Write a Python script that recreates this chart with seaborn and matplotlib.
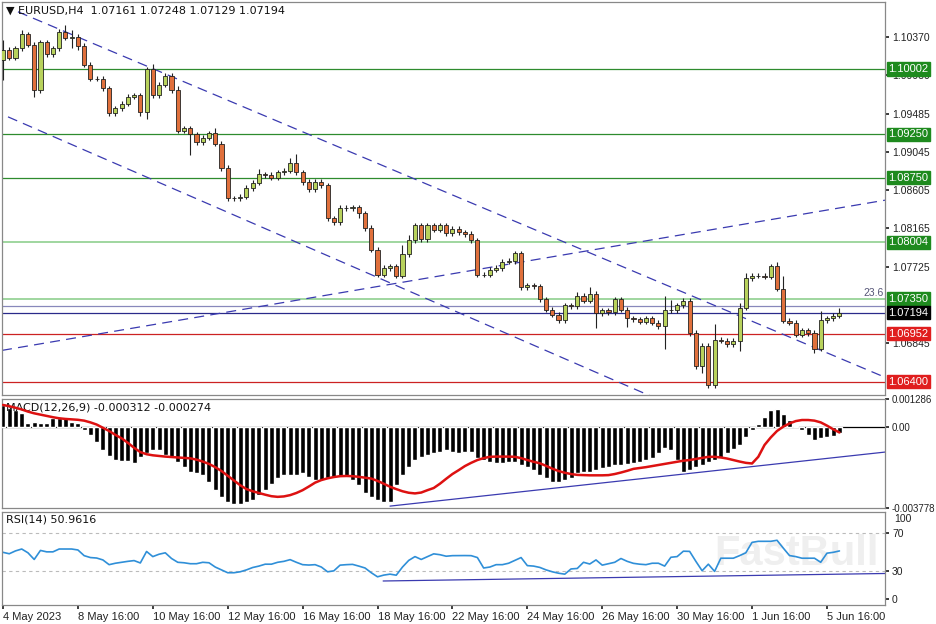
import numpy as np
import pandas as pd
import matplotlib
matplotlib.use("Agg")
import matplotlib.pyplot as plt
import matplotlib.transforms as mtrans
import seaborn as sns

sns.set_theme(style="white")
plt.rcParams['font.family'] = ['Liberation Sans', 'DejaVu Sans']

# ---------------- data ----------------
first_open = 1.1010
closes = [1.1022, 1.1013, 1.1024, 1.1040, 1.1028, 1.0976, 1.1031, 1.1017, 1.1024, 1.1043,
          1.1036, 1.1037, 1.1027, 1.1005, 1.0989, 1.0989, 1.0978, 1.0949, 1.0955, 1.0960,
          1.0968, 1.0970, 1.0951, 1.1000, 1.0970, 1.0982, 1.0992, 1.0976, 1.0929, 1.0932,
          1.0925, 1.0916, 1.0921, 1.0926, 1.0914, 1.0886, 1.0851, 1.0851, 1.0853, 1.0863,
          1.0869, 1.0879, 1.0878, 1.0875, 1.0881, 1.0883, 1.0892, 1.0881, 1.0870, 1.0862,
          1.0870, 1.0866, 1.0828, 1.0824, 1.0840, 1.0840, 1.0841, 1.0834, 1.0817, 1.0792,
          1.0763, 1.0771, 1.0773, 1.0762, 1.0787, 1.0803, 1.0820, 1.0804, 1.0820, 1.0815,
          1.0820, 1.0811, 1.0816, 1.0812, 1.0810, 1.0803, 1.0763, 1.0763, 1.0769, 1.0771,
          1.0778, 1.0779, 1.0788, 1.0749, 1.0751, 1.0750, 1.0735, 1.0723, 1.0717, 1.0711,
          1.0728, 1.0727, 1.0739, 1.0733, 1.0741, 1.0719, 1.0722, 1.0720, 1.0735, 1.0723,
          1.0713, 1.0712, 1.0709, 1.0713, 1.0708, 1.0704, 1.0722, 1.0722, 1.0728, 1.0733,
          1.0696, 1.0658, 1.0681, 1.0636, 1.0688, 1.0687, 1.0683, 1.0687, 1.0725, 1.0759,
          1.0762, 1.0762, 1.0761, 1.0773, 1.0747, 1.0710, 1.0708, 1.0694, 1.0699, 1.0696,
          1.0678, 1.0711, 1.0713, 1.0716, 1.07194]
wick_default_pips = 3
hi_wick_pips = {1: 12, 4: 5, 11: 8, 12: 8, 25: 6, 29: 5, 35: 6, 42: 6, 47: 6, 48: 10,
                65: 10, 66: 6, 93: 4, 95: 8, 107: 17, 108: 12, 115: 18, 119: 6, 120: 6,
                125: 5, 126: 15, 132: 10, 135: 5}
lo_wick_pips = {1: 22, 6: 8, 12: 12, 13: 5, 23: 5, 24: 8, 31: 24, 58: 5, 96: 17,
                101: 10, 107: 26, 113: 8, 119: 12, 131: 5}

macd_hist_e4 = [10.1, 8.5, 7.8, 6.2, 1.6, 2.3, 1.6, 1.6, 3.9, 3.9,
                3.9, 2.3, 1.6, -1.6, -3.9, -7.0, -10.9, -13.5, -15.5, -15.8,
                -15.8, -17.1, -14.0, -12.4, -10.9, -10.9, -13.2, -14.7, -16.3, -18.6,
                -20.9, -21.7, -22.5, -25.6, -29.5, -32.6, -34.9, -35.7, -35.7, -34.9,
                -34.1, -31.8, -29.5, -26.4, -24.0, -22.5, -22.5, -22.5, -21.7, -23.3,
                -24.8, -24.8, -24.0, -23.3, -23.3, -23.3, -24.8, -27.1, -31.0, -32.6,
                -34.1, -35.2, -34.9, -27.1, -22.5, -18.6, -15.5, -14.0, -13.2, -12.4,
                -11.6, -10.9, -11.6, -12.4, -11.6, -11.6, -14.7, -15.5, -16.3, -17.1,
                -17.1, -16.3, -16.3, -17.8, -18.6, -20.2, -22.5, -24.0, -25.6, -25.6,
                -24.8, -24.0, -21.7, -20.9, -20.9, -20.2, -19.4, -18.6, -17.8, -17.8,
                -17.5, -17.1, -16.3, -15.5, -14.7, -12.4, -10.1, -10.9, -15.5, -20.9,
                -20.2, -18.6, -17.8, -16.3, -15.5, -14.7, -12.4, -10.5, -8.5, -5.0,
                -1.6, 1.1, 4.7, 7.8, 8.2, 5.9, 3.1, 0.2, -1.6, -3.9,
                -6.2, -5.4, -5.0, -4.2, -3.1]
macd_signal_e4 = [10.1, 9.5, 8.8, 8.0, 7.0, 6.2, 5.6, 5.0, 4.4, 3.9,
                  3.6, 3.4, 3.2, 2.8, 2.0, 1.0, -0.5, -2.0, -3.8, -5.4,
                  -7.5, -9.8, -11.8, -12.8, -13.3, -13.6, -13.9, -14.1, -14.3, -14.5,
                  -14.7, -15.3, -16.2, -17.3, -18.8, -20.6, -22.8, -25.0, -27.2, -29.0,
                  -30.0, -30.8, -31.6, -32.3, -32.6, -32.4, -31.8, -30.8, -29.5, -27.8,
                  -26.0, -24.8, -24.0, -23.4, -23.0, -22.9, -23.0, -23.3, -23.7, -24.1,
                  -25.2, -26.5, -27.9, -29.0, -30.0, -30.7, -31.0, -30.6, -29.5, -28.5,
                  -26.5, -24.2, -22.0, -20.2, -18.3, -16.8, -15.5, -14.6, -14.0, -13.9,
                  -13.9, -13.9, -14.0, -14.6, -15.5, -16.3, -17.0, -18.2, -19.5, -20.6,
                  -21.4, -22.0, -22.4, -22.5, -22.6, -22.6, -22.6, -22.5, -22.0, -21.3,
                  -20.5, -19.6, -19.2, -18.8, -18.3, -17.8, -17.3, -16.8, -16.3, -15.8,
                  -15.5, -15.0, -14.5, -14.0, -14.0, -14.3, -14.8, -15.5, -16.2, -16.8,
                  -17.1, -14.0, -8.5, -5.0, -2.0, 0.0, 1.5, 2.6, 3.1, 3.1,
                  2.8, 2.0, 0.5, -1.2, -2.7]
rsi = [49.5, 48, 51, 53, 49, 42, 51.5, 50, 50, 53,
       53, 53, 52, 46, 44, 43.5, 41.5, 36.5, 38, 39,
       40, 40.8, 38.3, 50.4, 45, 47.5, 49, 43, 39, 38.5,
       37.5, 37.5, 39, 38.5, 34, 31, 28, 28, 29, 31,
       33.5, 35, 37, 37, 39, 40, 41.8, 39, 36.5, 36.1,
       36.5, 34, 29, 30, 36, 36.5, 36.8, 35, 33, 28,
       23.7, 25.5, 26.5, 25.4, 34, 41, 45, 42, 45, 47.9,
       47, 45.4, 46, 46.1, 46.1, 46, 44, 33, 34, 36.5,
       36.5, 38, 41, 44, 35.5, 35, 33.6, 31, 29, 27.5,
       26.5, 32, 32.5, 39, 37.2, 41.5, 36, 37.5, 39, 43,
       40, 37.9, 37, 36.5, 38, 38, 35, 44.3, 45, 50.7,
       50.5, 40, 30.1, 37, 29.4, 43.3, 43.3, 43.3, 46, 49,
       60, 61.1, 61.1, 61.1, 62.2, 54, 46.1, 45, 43.3, 43.3,
       43.3, 39, 48.6, 49.5, 50.96]

hlines_green = [1.10002, 1.09250, 1.08750]
hline_light_green = [1.08004, 1.07350]
hline_blue = [1.0727, 1.07194]
hlines_red = [1.06952, 1.06400]
price_ticks = [1.10370, 1.09930, 1.09485, 1.09045, 1.08605, 1.08165, 1.07725, 1.06845]
trend_upper = ([3.4, 142.3], [1.1066, 1.0645])
trend_lower = ([1.8, 105.2], [1.0945, 1.0622])
trend_rising = ([0.84, 142.3], [1.0676, 1.0849])
macd_trend = ([63, 142.3], [-36.9, -11.8])
rsi_trend = ([61.9, 142.3], [19.3, 27.2])
xtick_bars = [1, 13, 25, 37, 49, 61, 73, 85, 97, 109, 121, 133]
xtick_labels = ["4 May 2023", "8 May 16:00", "10 May 16:00", "12 May 16:00", "16 May 16:00",
                "18 May 16:00", "22 May 16:00", "24 May 16:00", "26 May 16:00", "30 May 16:00",
                "1 Jun 16:00", "5 Jun 16:00"]

# -------------- frame --------------
n = len(closes)
bars = np.arange(1, n + 1)
opens = [first_open] + closes[:-1]
pip = 0.0001
highs = [max(o, c) + hi_wick_pips.get(i + 1, wick_default_pips) * pip for i, (o, c) in enumerate(zip(opens, closes))]
lows = [min(o, c) - lo_wick_pips.get(i + 1, wick_default_pips) * pip for i, (o, c) in enumerate(zip(opens, closes))]
df = pd.DataFrame({"idx": bars, "o": opens, "c": closes, "h": highs, "l": lows,
                   "macd": np.array(macd_hist_e4) * 1e-4, "sig": np.array(macd_signal_e4) * 1e-4,
                   "rsi": rsi})

FS = 7.5
W, H = 936, 624
fig = plt.figure(figsize=(9.36, 6.24), dpi=100)
def rect(x0, y0, x1, y1):
    return [x0 / W, 1 - y1 / H, (x1 - x0) / W, (y1 - y0) / H]
ax = fig.add_axes(rect(2, 2, 885, 395))
axm = fig.add_axes(rect(2, 399, 885, 508))
axr = fig.add_axes(rect(2, 512, 885, 605))
XL = (0.84, 142.3)
for a in (ax, axm, axr):
    a.set_xlim(*XL)
    a.set_facecolor("white")
    for s in a.spines.values():
        s.set_color("#888888"); s.set_linewidth(0.9)
    a.yaxis.tick_right()
    a.tick_params(axis="y", length=3, labelsize=FS, colors="#222222", pad=2, direction="out", right=True)
    a.tick_params(axis="x", length=0)
    a.set_xticks([])

# ----- price -----
ax.set_ylim(1.06246, 1.10773)
for v in hlines_green:
    ax.axhline(v, color="#2e8b2e", lw=0.9)
for v in hline_light_green:
    ax.axhline(v, color="#8fcf8f", lw=1.2)
ax.axhline(hline_blue[0], color="#8888bb", lw=0.9)
ax.axhline(hline_blue[1], color="#2a2a8a", lw=0.9)
for v in hlines_red:
    ax.axhline(v, color="#cc2222", lw=0.9)
for tx, ty in (trend_upper, trend_lower, trend_rising):
    ax.plot(tx, ty, color="#3a3ab0", lw=0.9, dashes=(8, 5))

up = df[df["c"] >= df["o"]]
dn = df[df["c"] < df["o"]]
ax.vlines(df["idx"], df["l"], df["h"], color="#222222", lw=0.8, zorder=3)
ax.bar(up["idx"], up["c"] - up["o"], bottom=up["o"], width=0.66, color="#b8d25c",
       edgecolor="#222222", linewidth=0.6, zorder=4)
ax.bar(dn["idx"], dn["o"] - dn["c"], bottom=dn["c"], width=0.66, color="#e0703c",
       edgecolor="#222222", linewidth=0.6, zorder=4)
ax.set_yticks(price_ticks)
ax.set_yticklabels([f"{v:.5f}" for v in price_ticks])
bt = mtrans.blended_transform_factory(ax.transAxes, ax.transData)
def box(a, trans, v, txt, bg):
    a.text(1.004, v, txt, transform=trans, fontsize=FS + 0.5, color="white", va="center", ha="left",
           bbox=dict(boxstyle="square,pad=0.15", fc=bg, ec=bg), zorder=10, clip_on=False)
for v in hlines_green + hline_light_green:
    box(ax, bt, v, f"{v:.5f}", "#1e8a1e")
box(ax, bt, closes[-1], f"{closes[-1]:.5f}", "#000000")
for v in hlines_red:
    box(ax, bt, v, f"{v:.5f}", "#e01e1e")
ax.text(0.998, hline_light_green[1] + 0.0001, "23.6", transform=bt, fontsize=FS,
        color="#555577", ha="right", va="bottom")
ax.text(0.004, 0.992, "▼ EURUSD,H4  1.07161 1.07248 1.07129 1.07194", transform=ax.transAxes,
        fontsize=8, color="#111111", va="top", ha="left", family=['DejaVu Sans'])

# ----- MACD -----
axm.bar(df["idx"], df["macd"], width=0.8, color="black", zorder=3)
axm.axhline(0, color="black", lw=0.9)
sns.lineplot(data=df, x="idx", y="sig", ax=axm, color="#dd1111", lw=1.8, zorder=4)
axm.plot(macd_trend[0], np.array(macd_trend[1]) * 1e-4, color="#3a3ab0", lw=0.9)
axm.set_xlabel(""); axm.set_ylabel("")
axm.set_ylim(-0.003778, 0.001286)
axm.set_yticks([0.001286, 0.0, -0.003778])
axm.set_yticklabels(["0.001286", "0.00", "-0.003778"])
axm.tick_params(axis="y", labelsize=7)
axm.text(0.004, 0.97, "MACD(12,26,9) -0.000312 -0.000274", transform=axm.transAxes,
         fontsize=8, color="#111111", va="top", ha="left", family=['DejaVu Sans'])
axm.set_xlim(*XL)

# ----- RSI -----
for v in (70, 30):
    axr.axhline(v, color="#bbbbbb", lw=0.8, ls=(0, (3, 3)))
axr.text(0.90, 0.55, "FastBull", transform=axr.transAxes, fontsize=30, fontweight="bold",
         color="#efefef", ha="center", va="center", zorder=0)
sns.lineplot(data=df, x="idx", y="rsi", ax=axr, color="#2f8fd8", lw=1.2)
axr.plot(rsi_trend[0], rsi_trend[1], color="#3a3ab0", lw=0.9)
axr.set_xlabel(""); axr.set_ylabel("")
axr.set_ylim(-6, 92)
axr.set_yticks([70, 30, 0])
axr.text(1.01, 0.92, "100", transform=axr.transAxes, fontsize=FS, color="#222222", va="center")
axr.text(0.004, 0.97, "RSI(14) 50.9616", transform=axr.transAxes,
         fontsize=8, color="#111111", va="top", ha="left", family=['DejaVu Sans'])
axr.set_xlim(*XL)
axr.set_xticks(xtick_bars)
axr.set_xticklabels(xtick_labels, ha="left", fontsize=8, color="#222222")
axr.tick_params(axis="x", length=3, pad=2, direction="out", bottom=True)

fig.savefig("out.png", dpi=100, facecolor="white")
